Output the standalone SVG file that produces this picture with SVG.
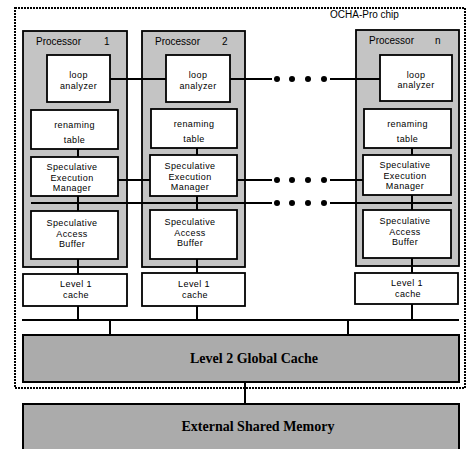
<svg xmlns="http://www.w3.org/2000/svg" width="467" height="449" viewBox="0 0 467 449">
<style>
.proc{fill:#c4c4c4;stroke:#000;stroke-width:1.8}
.box{fill:#fff;stroke:#000;stroke-width:1.8}
.big{fill:#ababab;stroke:#000;stroke-width:2}
.chip{fill:none;stroke:#000;stroke-width:2;stroke-dasharray:2 1}
.ln{stroke:#000;stroke-width:2;fill:none}
.t{font-family:"Liberation Sans",Arial,sans-serif;font-size:9px;letter-spacing:0.4px;fill:#000;text-anchor:middle}
.tl{font-family:"Liberation Sans",Arial,sans-serif;font-size:10px;fill:#000}
.b{font-family:"Liberation Serif","Times New Roman",serif;font-size:14px;font-weight:bold;fill:#000;text-anchor:middle}
.dot{fill:#000}
</style>
<rect width="467" height="449" fill="#fff"/>
<g id="chip">
<rect class="chip" x="15" y="8" width="450" height="380"/>
<text class="tl" x="330" y="18">OCHA-Pro chip</text>
</g>
<g id="processor1">
<rect class="proc" x="23" y="31" width="104" height="236"/>
<text class="tl" x="36" y="45">Processor</text><text class="tl" x="104" y="45">1</text>
</g>
<g id="processor2">
<rect class="proc" x="142" y="31" width="103" height="236"/>
<text class="tl" x="155" y="45">Processor</text><text class="tl" x="222" y="45">2</text>
</g>
<g id="processorn">
<rect class="proc" x="356" y="30" width="103" height="236"/>
<text class="tl" x="369" y="44">Processor</text><text class="tl" x="435" y="44">n</text>
</g>
<g id="connectors">
<line class="ln" x1="110" y1="79" x2="166" y2="79"/>
<line class="ln" x1="230" y1="79" x2="272" y2="79"/>
<line class="ln" x1="330" y1="79" x2="380" y2="79"/>
<line class="ln" x1="118" y1="180" x2="150" y2="180"/>
<line class="ln" x1="237" y1="180" x2="272" y2="180"/>
<line class="ln" x1="330" y1="180" x2="363" y2="180"/>
<line class="ln" x1="31" y1="203" x2="272" y2="203"/>
<line class="ln" x1="330" y1="203" x2="452" y2="203"/>
<line class="ln" x1="78" y1="149" x2="78" y2="157"/>
<line class="ln" x1="78" y1="196" x2="78" y2="211"/>
<line class="ln" x1="78" y1="259" x2="78" y2="274"/>
<line class="ln" x1="78" y1="306" x2="78" y2="320"/>
<line class="ln" x1="197" y1="148" x2="197" y2="155"/>
<line class="ln" x1="197" y1="196" x2="197" y2="210"/>
<line class="ln" x1="197" y1="259" x2="197" y2="273"/>
<line class="ln" x1="197" y1="306" x2="197" y2="320"/>
<line class="ln" x1="412" y1="148" x2="412" y2="155"/>
<line class="ln" x1="412" y1="195" x2="412" y2="210"/>
<line class="ln" x1="412" y1="258" x2="412" y2="273"/>
<line class="ln" x1="412" y1="304" x2="412" y2="320"/>
<line class="ln" x1="22" y1="320" x2="459" y2="320"/>
<line class="ln" x1="110" y1="320" x2="110" y2="335"/>
<line class="ln" x1="348" y1="320" x2="348" y2="335"/>
<line class="ln" x1="245" y1="382" x2="245" y2="404"/>
<circle class="dot" cx="277" cy="79" r="3"/><circle class="dot" cx="292" cy="79" r="3"/><circle class="dot" cx="308" cy="79" r="3"/><circle class="dot" cx="324" cy="79" r="3"/>
<circle class="dot" cx="277" cy="180" r="3"/><circle class="dot" cx="292" cy="180" r="3"/><circle class="dot" cx="308" cy="180" r="3"/><circle class="dot" cx="324" cy="180" r="3"/>
<circle class="dot" cx="277" cy="203" r="3"/><circle class="dot" cx="292" cy="203" r="3"/><circle class="dot" cx="308" cy="203" r="3"/><circle class="dot" cx="324" cy="203" r="3"/>
</g>
<g id="loop1"><rect class="box" x="47" y="55" width="63" height="47"/><text class="t" x="78.5" y="78">loop</text><text class="t" x="78.5" y="89">analyzer</text></g>
<g id="loop2"><rect class="box" x="166" y="55" width="64" height="47"/><text class="t" x="198" y="78">loop</text><text class="t" x="198" y="89">analyzer</text></g>
<g id="loopn"><rect class="box" x="380" y="55" width="72" height="46"/><text class="t" x="416" y="78">loop</text><text class="t" x="416" y="88">analyzer</text></g>
<g id="ren1"><rect class="box" x="31" y="110" width="87" height="39"/><text class="t" x="74.5" y="128">renaming</text><text class="t" x="74.5" y="143">table</text></g>
<g id="ren2"><rect class="box" x="151" y="109" width="86" height="39"/><text class="t" x="194" y="127">renaming</text><text class="t" x="194" y="142">table</text></g>
<g id="renn"><rect class="box" x="364" y="109" width="87" height="39"/><text class="t" x="407.5" y="127">renaming</text><text class="t" x="407.5" y="142">table</text></g>
<g id="sem1"><rect class="box" x="31" y="157" width="87" height="39"/><text class="t" x="72" y="170">Speculative</text><text class="t" x="72" y="180.5">Execution</text><text class="t" x="72" y="191">Manager</text></g>
<g id="sem2"><rect class="box" x="150" y="155" width="87" height="41"/><text class="t" x="190" y="169">Speculative</text><text class="t" x="190" y="179.5">Execution</text><text class="t" x="190" y="190">Manager</text></g>
<g id="semn"><rect class="box" x="363" y="155" width="88" height="40"/><text class="t" x="405" y="168">Speculative</text><text class="t" x="405" y="178.5">Execution</text><text class="t" x="405" y="189">Manager</text></g>
<g id="sab1"><rect class="box" x="31" y="211" width="87" height="48"/><text class="t" x="72" y="226">Speculative</text><text class="t" x="72" y="236.5">Access</text><text class="t" x="72" y="247">Buffer</text></g>
<g id="sab2"><rect class="box" x="150" y="210" width="87" height="49"/><text class="t" x="190" y="225">Speculative</text><text class="t" x="190" y="235.5">Access</text><text class="t" x="190" y="246">Buffer</text></g>
<g id="sabn"><rect class="box" x="363" y="210" width="88" height="48"/><text class="t" x="405" y="224">Speculative</text><text class="t" x="405" y="234.5">Access</text><text class="t" x="405" y="245">Buffer</text></g>
<g id="l1c1"><rect class="box" x="23" y="274" width="104" height="32"/><text class="t" x="76" y="287">Level 1</text><text class="t" x="76" y="298">cache</text></g>
<g id="l1c2"><rect class="box" x="142" y="273" width="103" height="33"/><text class="t" x="194" y="287">Level 1</text><text class="t" x="195" y="298">cache</text></g>
<g id="l1cn"><rect class="box" x="355" y="273" width="103" height="31"/><text class="t" x="407" y="285.5">Level 1</text><text class="t" x="408" y="296.5">cache</text></g>
<g id="l2"><rect class="big" x="23" y="335" width="436" height="47"/><text class="b" x="254" y="363">Level 2 Global Cache</text></g>
<g id="extmem"><rect class="big" x="23" y="404" width="436" height="60"/><text class="b" x="258" y="431">External Shared Memory</text></g>
</svg>
